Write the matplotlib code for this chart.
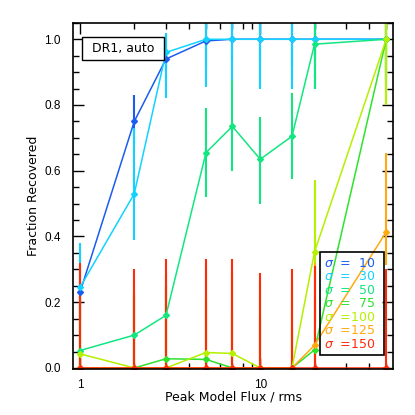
import matplotlib
matplotlib.use("Agg")
import matplotlib.pyplot as plt
from matplotlib.ticker import LogLocator, NullFormatter, MultipleLocator, FormatStrFormatter
from matplotlib.patches import Rectangle

plt.rcParams['font.family'] = ['DejaVu Sans']

# peak model flux / rms
flux = [1, 2, 3, 5, 7, 10, 15, 20, 50]

sigmas = [10, 30, 50, 75, 100, 125, 150]
colors = ['#1a5cf0', '#12d2ff', '#12e680', '#2ee22e', '#b4f000', '#ffaa10', '#ff2a0a']

frac_10 = [0.23, 0.75, 0.94, 0.995, 1.0, 1.0, 1.0, 1.0, 1.0]
lo_10 = [0.08, 0.07, 0.03, 0.08, 0.07, 0.07, 0.08, 0.07, 0.12]
hi_10 = [0.08, 0.08, 0.08, 0.10, 0.10, 0.10, 0.10, 0.10, 0.10]

frac_30 = [0.245, 0.53, 0.96, 1.0, 1.0, 1.0, 1.0, 1.0, 1.0]
lo_30 = [0.13, 0.14, 0.14, 0.145, 0.13, 0.15, 0.15, 0.15, 0.13]
hi_30 = [0.135, 0.20, 0.06, 0.10, 0.10, 0.10, 0.10, 0.10, 0.10]

frac_50 = [0.053, 0.10, 0.16, 0.655, 0.735, 0.635, 0.705, 0.985, 1.0]
lo_50 = [0.05, 0.09, 0.12, 0.135, 0.135, 0.135, 0.13, 0.135, 0.10]
hi_50 = [0.13, 0.13, 0.13, 0.135, 0.14, 0.13, 0.13, 0.07, 0.05]

frac_75 = [0.0, 0.0, 0.028, 0.026, 0.0, 0.0, 0.0, 0.055, 1.0]
lo_75 = [0.0, 0.0, 0.028, 0.026, 0.0, 0.0, 0.0, 0.055, 0.20]
hi_75 = [0.20, 0.22, 0.22, 0.18, 0.165, 0.155, 0.125, 0.16, 0.05]

frac_100 = [0.043, 0.0, 0.0, 0.047, 0.044, 0.0, 0.0, 0.353, 1.0]
lo_100 = [0.043, 0.0, 0.0, 0.047, 0.044, 0.0, 0.0, 0.22, 0.20]
hi_100 = [0.22, 0.23, 0.25, 0.26, 0.25, 0.22, 0.23, 0.22, 0.05]

frac_125 = [0.0, 0.0, 0.0, 0.0, 0.0, 0.0, 0.0, 0.069, 0.414]
lo_125 = [0.0, 0.0, 0.0, 0.0, 0.0, 0.0, 0.0, 0.069, 0.10]
hi_125 = [0.27, 0.27, 0.29, 0.29, 0.29, 0.26, 0.27, 0.25, 0.24]

frac_150 = [0.0, 0.0, 0.0, 0.0, 0.0, 0.0, 0.0, 0.0, 0.0]
lo_150 = [0.0, 0.0, 0.0, 0.0, 0.0, 0.0, 0.0, 0.0, 0.0]
hi_150 = [0.32, 0.30, 0.33, 0.33, 0.33, 0.29, 0.30, 0.31, 0.30]

fracs = [frac_10, frac_30, frac_50, frac_75, frac_100, frac_125, frac_150]
los = [lo_10, lo_30, lo_50, lo_75, lo_100, lo_125, lo_150]
his = [hi_10, hi_30, hi_50, hi_75, hi_100, hi_125, hi_150]

fig = plt.figure(figsize=(4.15, 4.15), dpi=100)
ax = fig.add_axes([0.176, 0.111, 0.771, 0.834])

for f, lo, hi, c in zip(fracs, los, his, colors):
    ax.errorbar(flux, f, yerr=[lo, hi], color=c, lw=1.1, elinewidth=1.5,
                capsize=0, marker='D', ms=3.0, mec=c, mfc=c)

ax.set_xscale('log')
ax.set_xlim(0.915, 54.5)
ax.set_ylim(-0.003, 1.05)
ax.set_xticks([1, 10])
ax.set_xticklabels(['1', '10'])
ax.xaxis.set_minor_locator(LogLocator(base=10, subs=range(2, 10)))
ax.xaxis.set_minor_formatter(NullFormatter())
ax.yaxis.set_major_locator(MultipleLocator(0.2))
ax.yaxis.set_minor_locator(MultipleLocator(0.05))
ax.yaxis.set_major_formatter(FormatStrFormatter('%.1f'))
ax.tick_params(which='both', direction='in', top=True, right=True, width=1)
ax.tick_params(which='major', length=8)
ax.tick_params(which='minor', length=4)
ax.tick_params(axis='y', which='major', pad=9)
ax.tick_params(axis='x', which='major', pad=7)
for lab in ax.get_xticklabels() + ax.get_yticklabels():
    lab.set_fontfamily('Liberation Sans')
    lab.set_fontsize(8.5)
for s in ax.spines.values():
    s.set_linewidth(1.2)

ax.set_xlabel('Peak Model Flux / rms', fontsize=9, labelpad=0)
ax.set_ylabel('Fraction Recovered', fontsize=9, labelpad=3)

# label box
ax.add_patch(Rectangle((0.028, 0.894), 0.256, 0.064, transform=ax.transAxes,
                       facecolor='white', edgecolor='black', lw=1, zorder=5))
ax.text(0.156, 0.926, 'DR1, auto', transform=ax.transAxes, ha='center', va='center',
        fontsize=9, zorder=6)

# legend box
ax.add_patch(Rectangle((0.772, 0.040), 0.200, 0.299, transform=ax.transAxes,
                       fill=False, edgecolor='black', lw=1.2, zorder=5))
for i, (s, c) in enumerate(zip(sigmas, colors)):
    pad = '\u2007' * (3 - len(str(s)))
    ax.text(0.785, 0.306 - i * 0.039, r'$\sigma$  =' + pad + str(s), transform=ax.transAxes,
            color=c, fontsize=9, ha='left', va='center', zorder=6)

fig.savefig('out.png', dpi=100)
